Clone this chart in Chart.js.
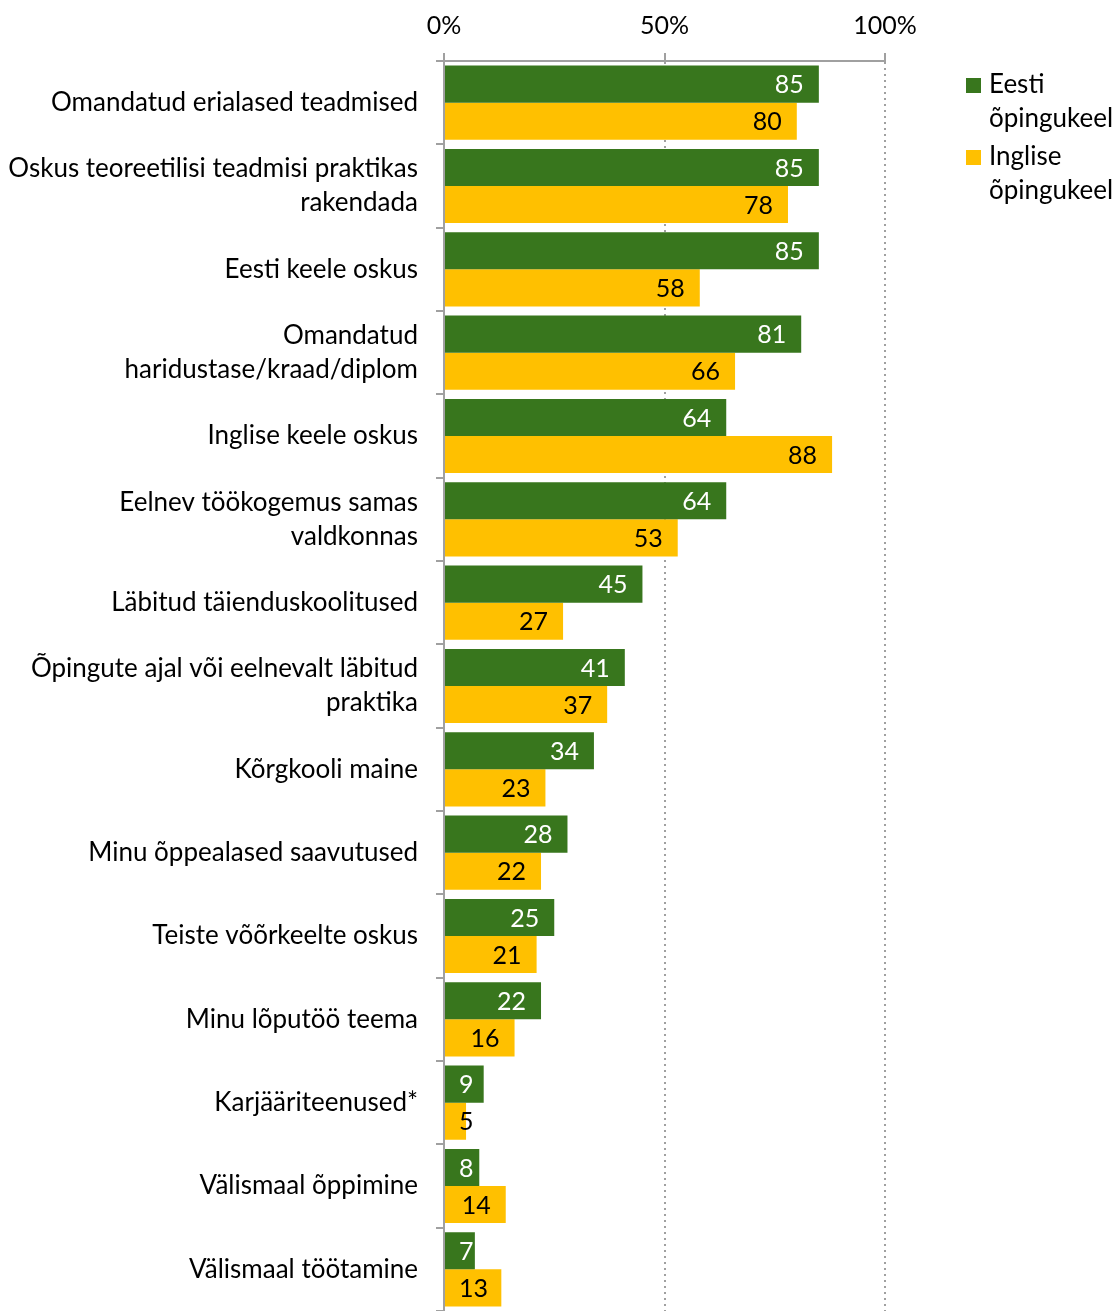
<!DOCTYPE html>
<html>
<head>
<meta charset="utf-8">
<script src="https://cdn.jsdelivr.net/npm/chart.js@4"></script>
<style>
  body { margin: 0; background: #fff; }
</style>
</head>
<body>
<canvas id="chart" width="1118" height="1311"></canvas>
<script>
/* categories, top to bottom */
const categories = [
    'Omandatud erialased teadmised',
    ['Oskus teoreetilisi teadmisi praktikas', 'rakendada'],
    'Eesti keele oskus',
    ['Omandatud', 'haridustase/kraad/diplom'],
    'Inglise keele oskus',
    ['Eelnev töökogemus samas', 'valdkonnas'],
    'Läbitud täienduskoolitused',
    ['Õpingute ajal või eelnevalt läbitud', 'praktika'],
    'Kõrgkooli maine',
    'Minu õppealased saavutused',
    'Teiste võõrkeelte oskus',
    'Minu lõputöö teema',
    'Karjääriteenused*',
    'Välismaal õppimine',
    'Välismaal töötamine'
];
const seriesNames = [['Eesti', 'õpingukeel'], ['Inglise', 'õpingukeel']];
const estonianValues = [85, 85, 85, 81, 64, 64, 45, 41, 34, 28, 25, 22, 9, 8, 7];
const englishValues = [80, 78, 58, 66, 88, 53, 27, 37, 23, 22, 21, 16, 5, 14, 13];
const xTicks = [0, 50, 100];

const green = '#38761d';
const yellow = '#ffc000';
const axisGrey = '#a0a0a0';
const fontFamily = 'Lato, "Noto Sans", sans-serif';

// values written inside the bar ends
const valueLabels = {
    id: 'valueLabels',
    afterDatasetsDraw(chart) {
        const ctx = chart.ctx;
        const left = chart.chartArea.left;
        ctx.save();
        ctx.font = '25px ' + fontFamily;
        ctx.textAlign = 'right';
        ctx.textBaseline = 'middle';
        chart.data.datasets.forEach((ds, i) => {
            chart.getDatasetMeta(i).data.forEach((bar, j) => {
                const txt = String(ds.data[j]);
                const w = ctx.measureText(txt).width;
                const x = Math.max(bar.x - 15, left + 15 + w);
                ctx.fillStyle = ds.labelColor;
                ctx.fillText(txt, x, bar.y + 1);
            });
        });
        ctx.restore();
    }
};

// two line legend on the right
const sideLegend = {
    id: 'sideLegend',
    afterDraw(chart) {
        const ctx = chart.ctx;
        const x0 = chart.chartArea.right + 81;
        let y0 = 85;
        ctx.save();
        ctx.font = '26px ' + fontFamily;
        ctx.textBaseline = 'middle';
        chart.data.datasets.forEach(ds => {
            ctx.fillStyle = ds.backgroundColor;
            ctx.fillRect(x0, y0 - 7, 15, 15);
            ctx.fillStyle = '#000';
            ds.legendLines.forEach((line, k) => {
                ctx.fillText(line, x0 + 23, y0 + k * 34);
            });
            y0 += 72;
        });
        ctx.restore();
    }
};

new Chart(document.getElementById('chart'), {
    type: 'bar',
    data: {
        labels: categories,
        datasets: [{
            label: 'Eesti õpingukeel',
            legendLines: seriesNames[0],
            data: estonianValues,
            backgroundColor: green,
            labelColor: '#fff',
            categoryPercentage: 0.89,
            barPercentage: 1
        }, {
            label: 'Inglise õpingukeel',
            legendLines: seriesNames[1],
            data: englishValues,
            backgroundColor: yellow,
            labelColor: '#000',
            categoryPercentage: 0.89,
            barPercentage: 1
        }]
    },
    options: {
        indexAxis: 'y',
        responsive: false,
        animation: false,
        layout: { padding: { left: 0, right: 233, top: 0, bottom: 0 } },
        plugins: {
            legend: { display: false },
            tooltip: { enabled: false }
        },
        scales: {
            x: {
                position: 'top',
                min: 0,
                max: 100,
                afterBuildTicks(scale) {
                    scale.ticks = xTicks.map(v => ({ value: v }));
                },
                afterFit(scale) { scale.height = 61; },
                ticks: {
                    color: '#000',
                    padding: 12,
                    font: { family: fontFamily, size: 25 },
                    callback: v => v + '%'
                },
                grid: {
                    color: ctx => ctx.index === 0 ? 'rgba(0,0,0,0)' : axisGrey,
                    lineWidth: 2,
                    tickLength: 8,
                    tickColor: axisGrey,
                    tickWidth: 2
                },
                border: { color: axisGrey, width: 2, dash: [2, 4] }
            },
            y: {
                afterFit(scale) {
                    scale.width = 444;
                    scale.paddingTop = 0;
                    scale.paddingBottom = 0;
                },
                ticks: {
                    color: '#000',
                    padding: 18,
                    font: { family: fontFamily, size: 26, lineHeight: 1.31 }
                },
                grid: {
                    drawOnChartArea: false,
                    tickLength: 8,
                    color: axisGrey,
                    lineWidth: 2
                },
                border: { color: axisGrey, width: 2 }
            }
        }
    },
    plugins: [valueLabels, sideLegend]
});
</script>
</body>
</html>
